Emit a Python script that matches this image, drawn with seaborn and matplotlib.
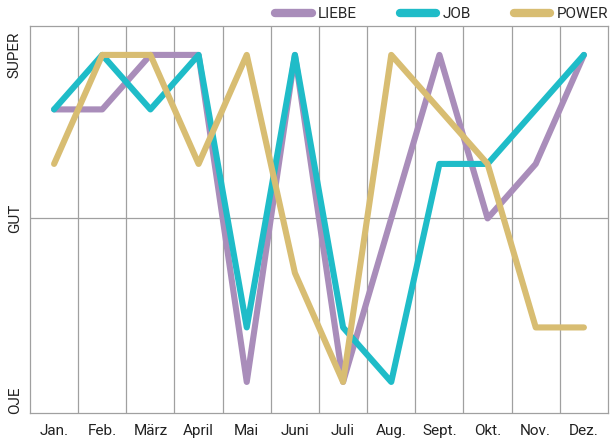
import pandas as pd
import matplotlib
matplotlib.use("Agg")
import matplotlib.pyplot as plt
import seaborn as sns

# Daten (Skala: 0 = OJE, 3 = GUT, 6 = SUPER)
months = ["Jan.", "Feb.", "März", "April", "Mai", "Juni",
          "Juli", "Aug.", "Sept.", "Okt.", "Nov.", "Dez."]
liebe = [5, 5, 6, 6, 0, 6, 0, 3, 6, 3, 4, 6]
job = [5, 6, 5, 6, 1, 6, 1, 0, 4, 4, 5, 6]
power = [4, 6, 6, 4, 6, 2, 0, 6, 5, 4, 1, 1]
series_names = ["LIEBE", "JOB", "POWER"]
colors = ["#a98dba", "#1fbcc8", "#d8bd72"]
y_labels = ["OJE", "GUT", "SUPER"]

df = pd.DataFrame({
    "monat": list(range(len(months))) * 3,
    "wert": liebe + job + power,
    "serie": [s for s in series_names for _ in months],
})

sns.set_style("white")
plt.rcParams["font.family"] = ["Roboto", "DejaVu Sans"]

fig = plt.figure(figsize=(6.16, 4.44), dpi=100)
ax = fig.add_axes([0.0487, 0.0698, 0.9383, 0.8716])

# Gitterlinien zwischen den Monaten und bei GUT
for xb in range(len(months) - 1):
    ax.axvline(xb + 0.5, color="#a0a0a0", lw=0.9, zorder=0)
ax.axhline(3, color="#a0a0a0", lw=0.9, zorder=0)

sns.lineplot(data=df, x="monat", y="wert", hue="serie", hue_order=series_names,
             palette=colors, linewidth=4.4, ax=ax, legend=True,
             solid_capstyle="round", solid_joinstyle="round")

ax.set_xlim(-0.5, len(months) - 0.5)
ax.set_ylim(-0.57, 6.53)
ax.set_xticks(range(len(months)))
ax.set_xticklabels(months, fontsize=11, color="#222222")
ax.set_yticks([-0.33, 3, 6])
ax.set_yticklabels(y_labels, rotation=90, va="center", fontsize=11, color="#222222")
ax.tick_params(axis="x", length=0, pad=8)
ax.tick_params(axis="y", length=0, pad=6)
ax.set_xlabel("")
ax.set_ylabel("")
for sp in ax.spines.values():
    sp.set_color("#a0a0a0")
    sp.set_linewidth(0.9)

leg = ax.legend(loc="lower right", bbox_to_anchor=(1.0, 1.012), ncol=3, frameon=False,
                fontsize=11, handlelength=2.4, columnspacing=2.8, handletextpad=0.4,
                borderaxespad=0.0, borderpad=0.0)
for line in leg.get_lines():
    line.set_linewidth(6)
    line.set_solid_capstyle("round")

fig.savefig("out.png", dpi=100)
